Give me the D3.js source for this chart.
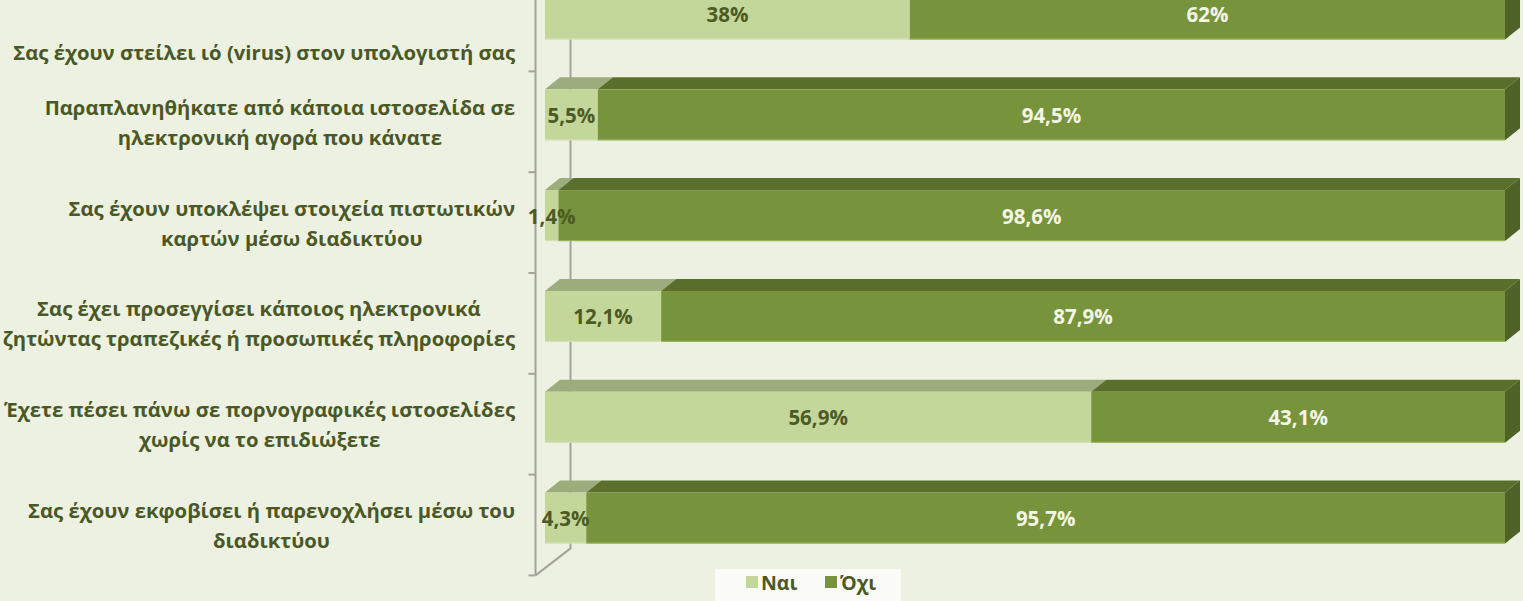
<!DOCTYPE html>
<html><head><meta charset="utf-8">
<script src="https://cdn.jsdelivr.net/npm/d3@7"></script>
<style>
html,body{margin:0;padding:0;background:#edf1e2;overflow:hidden}
svg{display:block}
</style></head>
<body>
<svg id="chart" width="1523" height="601"></svg>
<script>
const categories = [
  ["Σας έχουν στείλει ιό (virus) στον υπολογιστή σας"],
  ["Παραπλανηθήκατε από κάποια ιστοσελίδα σε", "ηλεκτρονική αγορά που κάνατε"],
  ["Σας έχουν υποκλέψει στοιχεία πιστωτικών", "καρτών μέσω διαδικτύου"],
  ["Σας έχει προσεγγίσει κάποιος ηλεκτρονικά", "ζητώντας τραπεζικές ή προσωπικές πληροφορίες"],
  ["Έχετε πέσει πάνω σε πορνογραφικές ιστοσελίδες", "χωρίς να το επιδιώξετε"],
  ["Σας έχουν εκφοβίσει ή παρενοχλήσει μέσω του", "διαδικτύου"]
];
const seriesNames = ["Ναι", "Όχι"];
const naiValues = [38, 5.5, 1.4, 12.1, 56.9, 4.3];
const oxiValues = [62, 94.5, 98.6, 87.9, 43.1, 95.7];

const W = 1523, H = 601;
const svg = d3.select("#chart");
const FONT = "'Open Sans', 'Noto Sans', sans-serif";

const colors = {
  front: ["#c4d79b", "#77933c"],
  top: ["#9dac7c", "#5a6f2b"],
  side: "#4f6228",
  label: ["#4c5b24", "#f3f5e6"]
};

const x = d3.scaleLinear().domain([0, 100]).range([545, 1505]);
const y = d3.scaleBand().domain(d3.range(categories.length))
  .range([-36.4, 568.4]).paddingInner(0.494).paddingOuter(0.247);
const dx = 15, dy = -12;          // bar depth
const axX = 535.5, backDx = 35, backDy = -27; // axis depth
const tickShift = 7;

// back wall line
const bottomFront = y.range()[1] + tickShift;
svg.append("path")
  .attr("d", `M${axX + backDx},-5 L${axX + backDx},${bottomFront + backDy} L${axX},${bottomFront}`)
  .attr("fill", "none").attr("stroke", "#a3a39c").attr("stroke-width", 2);

// front axis
svg.append("line").attr("x1", axX).attr("x2", axX).attr("y1", -5).attr("y2", bottomFront)
  .attr("stroke", "#a3a39c").attr("stroke-width", 2);
const tickYs = d3.range(categories.length + 1).map(i => y.range()[0] + i * y.step() + tickShift);
svg.selectAll("line.tick").data(tickYs).enter().append("line")
  .attr("x1", axX - 7).attr("x2", axX).attr("y1", d => d).attr("y2", d => d)
  .attr("stroke", "#a3a39c").attr("stroke-width", 2);

// stacked data
const stackData = categories.map((c, i) => {
  const v = [naiValues[i], oxiValues[i]];
  let acc = 0;
  return v.map((val, s) => { const seg = {i, s, val, x0: acc, x1: acc + val}; acc += val; return seg; });
});

const fmt = v => (Number.isInteger(v) ? String(v) : v.toFixed(1).replace(".", ",")) + "%";

const rows = svg.selectAll("g.row").data(stackData).enter().append("g").attr("class", "row");
rows.each(function(segs) {
  const g = d3.select(this);
  segs.forEach(seg => {
    const top = y(seg.i), bot = top + y.bandwidth();
    const a = x(seg.x0), b = x(seg.x1);
    g.append("path")
      .attr("d", `M${a},${top} L${b},${top} L${b + dx},${top + dy} L${a + dx},${top + dy} Z`)
      .attr("fill", colors.top[seg.s]);
    g.append("rect").attr("x", a).attr("y", top).attr("width", b - a).attr("height", bot - top)
      .attr("fill", colors.front[seg.s]);
    g.append("line").attr("x1", a).attr("x2", b).attr("y1", bot - 0.5).attr("y2", bot - 0.5)
      .attr("stroke", seg.s === 0 ? "#d6e2bb" : "#9db460").attr("stroke-width", 1);
    if (seg.s === segs.length - 1) {
      g.append("path")
        .attr("d", `M${b},${top} L${b + dx},${top + dy} L${b + dx},${bot + dy} L${b},${bot} Z`)
        .attr("fill", colors.side);
    }
  });
});

// value labels
rows.each(function(segs) {
  const g = d3.select(this);
  segs.forEach(seg => {
    g.append("text")
      .attr("x", (x(seg.x0) + x(seg.x1)) / 2)
      .attr("y", y(seg.i) + y.bandwidth() / 2)
      .attr("text-anchor", "middle").attr("dominant-baseline", "central")
      .attr("font-family", FONT).attr("font-weight", 700).attr("font-size", 20.5)
      .attr("fill", colors.label[seg.s])
      .text(fmt(seg.val));
  });
});

// category labels
const labelRight = 515, lineH = 30, catSize = 20.3;
const catG = svg.append("g");
categories.forEach((lines, i) => {
  const cy = y(i) + y.bandwidth() / 2 + tickShift + (i === 0 ? 31 : 0);
  const t = catG.append("text")
    .attr("font-family", FONT).attr("font-weight", 700).attr("font-size", catSize)
    .attr("fill", "#4a5825").attr("text-anchor", "middle");
  lines.forEach((ln, k) => {
    t.append("tspan").attr("y", cy + (k - (lines.length - 1) / 2) * lineH)
      .attr("dominant-baseline", "central").text(ln);
  });
  const widths = [];
  t.selectAll("tspan").each(function() { widths.push(this.getComputedTextLength()); });
  const maxW = d3.max(widths);
  t.selectAll("tspan").attr("x", labelRight - maxW / 2);
});

// legend
const lg = svg.append("g");
lg.append("rect").attr("x", 715).attr("y", 569).attr("width", 186).attr("height", 40).attr("fill", "#fafbf6");
const legendItems = [{name: seriesNames[0], c: colors.front[0], x: 746}, {name: seriesNames[1], c: colors.front[1], x: 825}];
legendItems.forEach(d => {
  lg.append("rect").attr("x", d.x).attr("y", 576).attr("width", 12).attr("height", 12).attr("fill", d.c);
  lg.append("text").attr("x", d.x + 15).attr("y", 582).attr("dominant-baseline", "central")
    .attr("font-family", FONT).attr("font-weight", 700).attr("font-size", 19.5).attr("fill", "#4a5825").text(d.name);
});
</script>
</body></html>
